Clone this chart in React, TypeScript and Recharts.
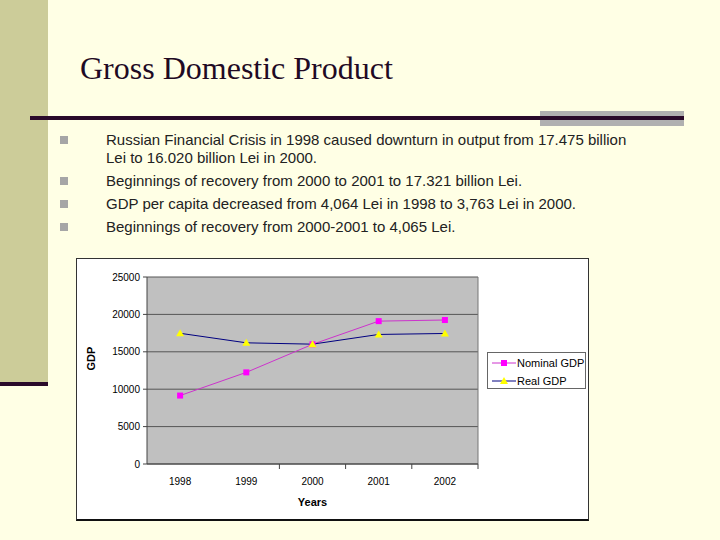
import React from "react";
import { LineChart, Line, XAxis, YAxis, CartesianGrid, Legend, ReferenceLine } from "recharts";

const years = [1998, 1999, 2000, 2001, 2002];
const nominalGdp = [9150, 12250, 16000, 19100, 19250];
const realGdp = [17475, 16200, 16020, 17321, 17450];
const yTicks = [0, 5000, 10000, 15000, 20000, 25000];
const boundaryTicks = [1999.5, 2000.5, 2001.5, 2002.5];

const bullets = [
  ["Russian Financial Crisis in 1998 caused downturn in output from 17.475 billion", "Lei to 16.020 billion Lei in 2000."],
  ["Beginnings of recovery from 2000 to 2001 to 17.321 billion Lei."],
  ["GDP per capita decreased from 4,064 Lei in 1998 to 3,763 Lei in 2000."],
  ["Beginnings of recovery from 2000-2001 to 4,065 Lei."],
];

const data = years.map((y, i) => ({ year: y, nominal: nominalGdp[i], real: realGdp[i] }));

const chartFont = "'Liberation Sans', Arial, sans-serif";

const SquareDot = (props: any) => {
  const { cx, cy } = props;
  if (cx == null || cy == null) return null;
  return <rect x={cx - 3} y={cy - 3} width={6} height={6} fill="#FF00FF" />;
};

const TriangleDot = (props: any) => {
  const { cx, cy } = props;
  if (cx == null || cy == null) return null;
  return <polygon points={`${cx},${cy - 4} ${cx + 4},${cy + 3} ${cx - 4},${cy + 3}`} fill="#FFFF00" />;
};

const XTick = (props: any) => {
  const { x, y, payload } = props;
  const v = payload.value;
  if (v % 1 !== 0) {
    return <line x1={x} x2={x} y1={y - 2} y2={y + 3} stroke="#444" strokeWidth={1} />;
  }
  return (
    <text x={x} y={y + 19} textAnchor="middle" fontSize={10} fontFamily={chartFont} fill="#000">
      {String(v)}
    </text>
  );
};

const LegendBox = () => (
  <div
    style={{
      border: "1px solid #666",
      background: "#fff",
      width: 99,
      height: 37,
      boxSizing: "border-box",
      fontFamily: chartFont,
      fontSize: 11,
      color: "#000",
      padding: "2px 0 0 4px",
      whiteSpace: "nowrap",
    }}
  >
    <div style={{ display: "flex", alignItems: "center", height: 15 }}>
      <svg width={24} height={10}>
        <line x1={0} x2={24} y1={5} y2={5} stroke="#CC33CC" strokeWidth={1} />
        <rect x={9} y={2} width={6} height={6} fill="#FF00FF" />
      </svg>
      <span style={{ marginLeft: 1 }}>Nominal GDP</span>
    </div>
    <div style={{ display: "flex", alignItems: "center", height: 15, marginTop: 3 }}>
      <svg width={24} height={10}>
        <line x1={0} x2={24} y1={5} y2={5} stroke="#000080" strokeWidth={1} />
        <polygon points="12,1 16,8 8,8" fill="#FFFF00" />
      </svg>
      <span style={{ marginLeft: 1 }}>Real GDP</span>
    </div>
  </div>
);

export default function App() {
  return (
    <div
      style={{
        position: "absolute",
        left: 0,
        top: 0,
        width: 720,
        height: 540,
        background: "#FFFFE5",
        overflow: "hidden",
      }}
    >
      {/* left band */}
      <div style={{ position: "absolute", left: 0, top: 0, width: 48, height: 382, background: "#CCCC99" }} />
      <div style={{ position: "absolute", left: 0, top: 382, width: 48, height: 4, background: "#2A0A2A" }} />

      <div
        style={{
          position: "absolute",
          left: 80,
          top: 48,
          fontFamily: "'Liberation Serif', 'Times New Roman', serif",
          fontSize: 32,
          color: "#1F0A24",
          whiteSpace: "nowrap",
          lineHeight: "40px",
        }}
      >
        Gross Domestic Product
      </div>

      {/* rule */}
      <div style={{ position: "absolute", left: 540, top: 111, width: 144, height: 15, background: "#B0B0B0" }} />
      <div style={{ position: "absolute", left: 30, top: 116, width: 654, height: 4, background: "#2A0A2A" }} />

      {/* bullets */}
      <div
        style={{
          position: "absolute",
          left: 60,
          top: 131,
          fontFamily: "'Liberation Sans', Arial, sans-serif",
          fontSize: 15,
          color: "#222",
        }}
      >
        {bullets.map((lines, i) => (
          <div key={i} style={{ position: "relative", marginBottom: 5 }}>
            <div style={{ position: "absolute", left: 0, top: 5, width: 8, height: 8, background: "#A6A6A6" }} />
            {lines.map((ln, j) => (
              <div key={j} style={{ marginLeft: 46, lineHeight: "18px", whiteSpace: "nowrap" }}>
                {ln}
              </div>
            ))}
          </div>
        ))}
      </div>

      {/* chart frame */}
      <div
        style={{
          position: "absolute",
          left: 76,
          top: 258,
          width: 513,
          height: 263,
          boxSizing: "border-box",
          border: "1px solid #333",
          borderBottom: "2px solid #111",
          background: "#fff",
        }}
      >
        <LineChart
          width={511}
          height={260}
          data={data}
          margin={{ top: 18, right: 110, bottom: 0, left: 0 }}
          style={{ fontFamily: chartFont }}
        >
          <CartesianGrid
            horizontal
            vertical={false}
            stroke="#555"
            fill="#C0C0C0"
            fillOpacity={1}
          />
          <XAxis
            dataKey="year"
            type="number"
            domain={[1997.5, 2002.5]}
            ticks={[...years, ...boundaryTicks].sort()}
            tick={<XTick />}
            tickLine={false}
            tickSize={0}
            tickMargin={2}
            interval={0}
            allowDecimals
            axisLine={{ stroke: "#444" }}
            height={55}
            label={{ value: "Years", position: "insideBottom", offset: 13, fontSize: 11, fontWeight: "bold", fill: "#000", fontFamily: chartFont }}
          />
          <YAxis
            domain={[0, 25000]}
            ticks={yTicks}
            interval={0}
            width={70}
            tickSize={4}
            tickMargin={3}
            tick={{ fontSize: 10, fill: "#000", fontFamily: chartFont }}
            tickLine={{ stroke: "#444" }}
            axisLine={{ stroke: "#444" }}
            label={{ value: "GDP", angle: -90, position: "insideLeft", offset: 14, fontSize: 11, fontWeight: "bold", fill: "#000", fontFamily: chartFont }}
          />
          <ReferenceLine x={2002.5} stroke="#777" />
          <Legend
            layout="horizontal"
            verticalAlign="middle"
            align="center"
            content={<LegendBox />}
            wrapperStyle={{ left: 410, top: 93, width: 99, height: 37 }}
          />
          <Line
            dataKey="nominal"
            name="Nominal GDP"
            stroke="#CC33CC"
            strokeWidth={1}
            dot={<SquareDot />}
            activeDot={false}
            isAnimationActive={false}
          />
          <Line
            dataKey="real"
            name="Real GDP"
            stroke="#000080"
            strokeWidth={1}
            dot={<TriangleDot />}
            activeDot={false}
            isAnimationActive={false}
          />
        </LineChart>
      </div>
    </div>
  );
}
